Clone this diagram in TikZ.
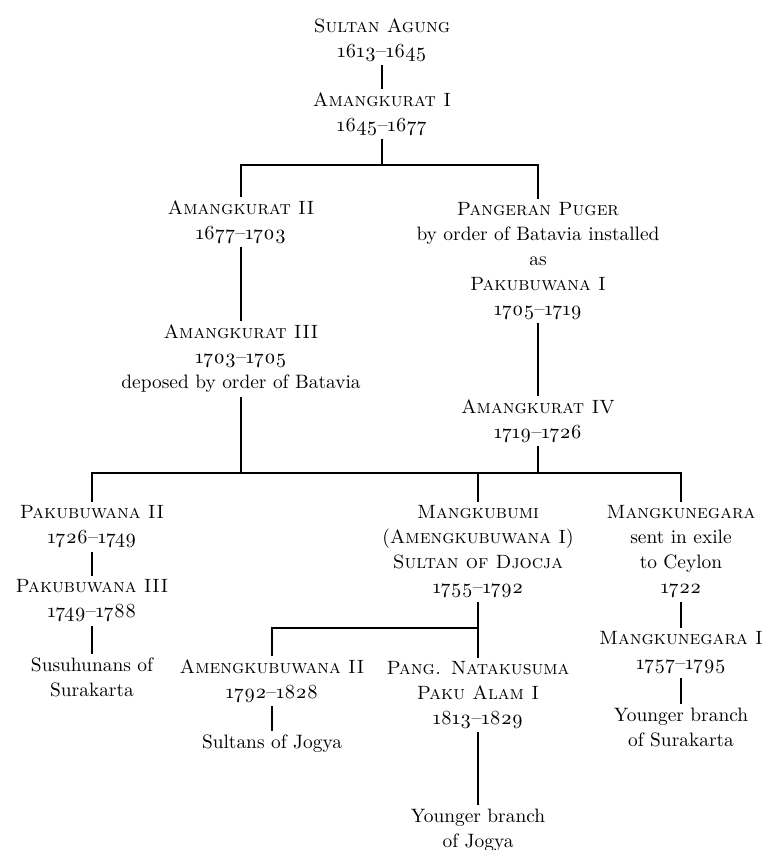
\documentclass[tikz,border=0pt]{standalone}
\usepackage{fontspec}
\newfontfamily\osf{lmroman10-regular}[Extension=.otf,Numbers=OldStyle,Ligatures=TeX]
\newcommand{\yrs}[2]{{\fontsize{10}{12.5}\selectfont\osf #1--#2}}
\newcommand{\nm}[1]{{\fontsize{9.6}{12.5}\selectfont\scshape #1}}

\begin{document}
\begin{tikzpicture}[x=0.5pt, y=-0.5pt, line width=0.7pt,
    every node/.style={align=center, inner sep=1.5pt,
        font=\fontsize{9.7}{12.5}\selectfont}]

    \useasboundingbox (0,0) rectangle (764,850);

    % top of the line
    \node (SA)  at (382,40)  {\nm{Sultan Agung}\\\yrs{1613}{1645}};
    \node (AK1) at (382,114) {\nm{Amangkurat I}\\\yrs{1645}{1677}};

    \node (AK2) at (241,222) {\nm{Amangkurat II}\\\yrs{1677}{1703}};
    \node (AK3) at (241,359) {\nm{Amangkurat III}\\\yrs{1703}{1705}\\deposed by order of Batavia};
    \node (PP)  at (538,261) {\nm{Pangeran Puger}\\by order of Batavia installed\\as\\\nm{Pakubuwana I}\\\yrs{1705}{1719}};
    \node (AK4) at (538,421) {\nm{Amangkurat IV}\\\yrs{1719}{1726}};

    % next generation
    \node (PB2) at (92,527)  {\nm{Pakubuwana II}\\\yrs{1726}{1749}};
    \node (PB3) at (92,601)  {\nm{Pakubuwana III}\\\yrs{1749}{1788}};
    \node (SS)  at (92,677)  {Susuhunans of\\Surakarta};

    \node (MB)  at (478,552) {\nm{Mangkubumi}\\(\nm{Amengkubuwana I})\\\nm{Sultan of Djocja}\\\yrs{1755}{1792}};
    \node (AB2) at (272,681) {\nm{Amengkubuwana II}\\\yrs{1792}{1828}};
    \node (SJ)  at (272,744) {Sultans of Jogya};
    \node (NK)  at (478,695) {\nm{Pang. Natakusuma}\\\nm{Paku Alam I}\\\yrs{1813}{1829}};
    \node (YJ)  at (478,830) {Younger branch\\of Jogya};

    \node (MN)  at (681,552) {\nm{Mangkunegara}\\sent in exile\\to Ceylon\\{\fontsize{10}{12.5}\selectfont\osf 1722}};
    \node (MN1) at (681,653) {\nm{Mangkunegara I}\\\yrs{1757}{1795}};
    \node (YS)  at (681,727) {Younger branch\\of Surakarta};

    % bars
    \coordinate (T1) at (382,165);
    \coordinate (T2) at (241,473);
    \coordinate (T3) at (538,473);
    \coordinate (T4) at (478,473);
    \coordinate (T5) at (478,628);

    \draw (SA) -- (AK1);
    \draw (AK1) -- (T1);
    \draw (AK2) |- (T1) -| (PP);
    \draw (AK2) -- (AK3);
    \draw (PP) -- (AK4);

    \draw (AK3) -- (T2);
    \draw (AK4) -- (T3);
    \draw (PB2) |- (T2) -- (T3) -| (MN);
    \draw (T4) -- (MB);

    \draw (PB2) -- (PB3);
    \draw (PB3) -- (SS);

    \draw (MB) -- (NK);
    \draw (AB2) |- (T5);
    \draw (AB2) -- (SJ);
    \draw (NK) -- (YJ);

    \draw (MN) -- (MN1);
    \draw (MN1) -- (YS);

\end{tikzpicture}
\end{document}
